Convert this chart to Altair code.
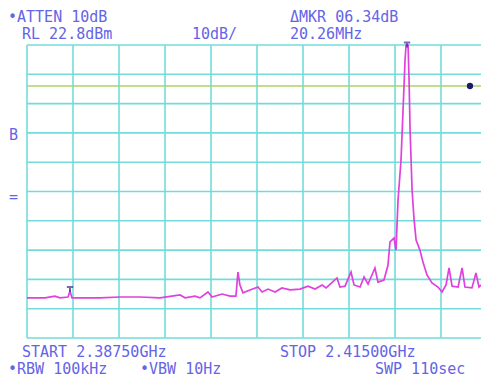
import altair as alt
import pandas as pd

# ---- data ----
freq_mhz = [2387.50, 2388.58, 2389.17, 2389.47, 2389.95, 2390.07, 2390.19, 2391.86,
            2393.06, 2394.26, 2395.45, 2396.65, 2396.95, 2397.54, 2397.84, 2398.32,
            2398.56, 2399.16, 2399.64, 2399.99, 2400.11, 2400.23, 2400.41, 2400.83,
            2401.31, 2401.55, 2401.91, 2402.33, 2402.74, 2403.22, 2403.82, 2404.30,
            2404.72, 2405.14, 2405.38, 2406.03, 2406.21, 2406.51, 2406.87, 2407.05,
            2407.41, 2407.65, 2407.89, 2408.30, 2408.48, 2408.84, 2409.08, 2409.20,
            2409.44, 2409.56, 2409.68, 2409.86, 2409.98, 2410.10, 2410.16, 2410.28,
            2410.34, 2410.40, 2410.52, 2410.64, 2410.76, 2410.99, 2411.17, 2411.41,
            2411.71, 2412.07, 2412.31, 2412.55, 2412.73, 2412.91, 2413.27, 2413.51,
            2413.68, 2414.10, 2414.34, 2414.52, 2414.64]
level_dbm = [-63.5, -63.5, -62.9, -63.5, -63.2, -61.2, -63.5, -63.5,
             -63.2, -63.2, -63.5, -62.5, -63.5, -62.9, -63.5, -61.5,
             -63.2, -62.2, -62.9, -62.9, -54.7, -59.1, -61.8, -60.8,
             -59.8, -61.5, -60.5, -61.5, -60.1, -60.8, -60.5, -59.5,
             -60.5, -59.1, -60.1, -56.7, -59.8, -59.5, -54.7, -59.1,
             -59.8, -56.4, -58.8, -53.3, -58.1, -57.4, -52.3, -44.4,
             -43.1, -47.2, -30.1, -16.4, 0.6, 17.7, 22.8, 22.8,
             10.9, -6.2, -26.7, -36.9, -43.8, -47.2, -51.3, -55.7,
             -58.4, -59.8, -61.5, -59.1, -53.3, -59.5, -59.8, -53.3,
             -59.8, -60.1, -55.0, -59.8, -59.1]

grid_freq = [2387.5, 2390.25, 2393.0, 2395.75, 2398.5, 2401.25, 2404.0,
             2406.75, 2409.5, 2412.25]
grid_level = [22.8, 12.8, 2.8, -7.2, -17.2, -27.2, -37.2, -47.2, -57.2,
              -67.2, -77.2]
display_line_dbm = [8.8]
marker_freq = [2390.07, 2410.22]
marker_level = [-60.4, 23.0]
dot_freq = [2413.98]
dot_level = [8.8]

top_left = ["\u2022ATTEN 10dB", "RL 22.8dBm"]
top_mid = ["10dB/"]
top_right = ["\u0394MKR 06.34dB", "20.26MHz"]
bottom_texts = ["START 2.38750GHz", "STOP 2.41500GHz", "\u2022RBW 100kHz",
                "\u2022VBW 10Hz", "SWP 110sec"]
side_texts = ["B", "="]

# ---- layout ----
W, H = 454, 293
PL, PT = 27, 45
TXT = "#6464e6"
GRID = "#72dcdc"

xs = alt.Scale(domain=[2387.5, 2414.64], nice=False, zero=False)
ys = alt.Scale(domain=[-77.2, 22.8], nice=False, zero=False)

trace_df = pd.DataFrame({"f": freq_mhz, "d": level_dbm,
                         "i": list(range(len(freq_mhz)))})

vgrid = alt.Chart(pd.DataFrame({"f": grid_freq})).mark_rule(
    color=GRID, strokeWidth=1.6).encode(
    x=alt.X("f:Q", scale=xs, axis=None))

hgrid = alt.Chart(pd.DataFrame({"d": grid_level})).mark_rule(
    color=GRID, strokeWidth=1.6).encode(
    y=alt.Y("d:Q", scale=ys, axis=None))

dline = alt.Chart(pd.DataFrame({"d": display_line_dbm})).mark_rule(
    color="#a8d468", strokeWidth=1.6).encode(y=alt.Y("d:Q", scale=ys, axis=None))

trace = alt.Chart(trace_df).mark_line(
    color="#e040dc", strokeWidth=1.7, interpolate="linear").encode(
    x=alt.X("f:Q", scale=xs, axis=None), y=alt.Y("d:Q", scale=ys, axis=None),
    order="i:Q")

markers = alt.Chart(pd.DataFrame({"f": marker_freq, "d": marker_level})).mark_point(
    shape="M-1,-0.6L1,-0.6M0,-0.6L0,1", size=40, color="#3a2a9a",
    strokeWidth=2, filled=False).encode(
    x=alt.X("f:Q", scale=xs, axis=None), y=alt.Y("d:Q", scale=ys, axis=None))

dot = alt.Chart(pd.DataFrame({"f": dot_freq, "d": dot_level})).mark_point(
    shape="circle", size=40, color="#1c1c6a", filled=True, opacity=1).encode(
    x=alt.X("f:Q", scale=xs, axis=None), y=alt.Y("d:Q", scale=ys, axis=None))

text_layout = [
    (top_left[0], 8, 17), (top_left[1], 22, 34), (top_mid[0], 192, 34),
    (top_right[0], 290, 17), (top_right[1], 290, 34),
    (bottom_texts[0], 22, 352), (bottom_texts[1], 280, 352),
    (bottom_texts[2], 8, 369), (bottom_texts[3], 140, 369),
    (bottom_texts[4], 375, 369),
    (side_texts[0], 9, 135), (side_texts[1], 9, 197),
]

texts = []
for s, ax, ay in text_layout:
    texts.append(
        alt.Chart(pd.DataFrame({"t": [s]})).mark_text(
            align="left", baseline="middle", font="DejaVu Sans Mono",
            fontSize=15, color=TXT).encode(
            x=alt.value(ax - PL), y=alt.value(ay - PT), text="t:N"))

chart = alt.layer(vgrid, hgrid, dline, trace, markers, dot, *texts).properties(
    width=W, height=H,
    padding={"left": PL, "top": PT, "right": 0, "bottom": 379 - PT - H},
    autosize=alt.AutoSizeParams(type="none"),
    background="white",
).configure_view(strokeWidth=0)

chart.save("out.html", embed_options={"renderer": "svg", "actions": False})
